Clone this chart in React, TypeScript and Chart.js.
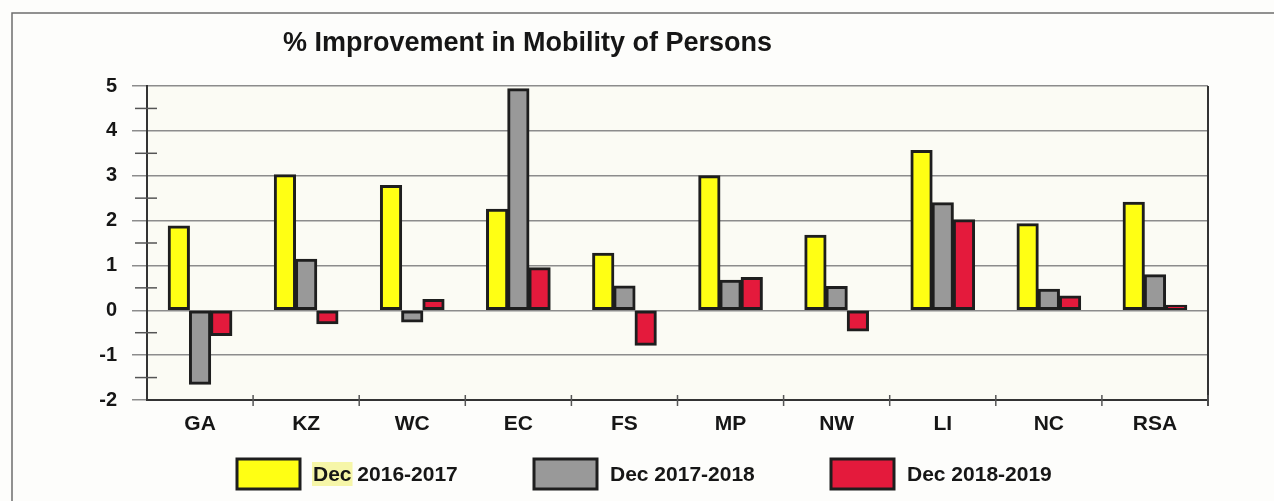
import React, { useEffect, useRef } from "react";
import { Chart, registerables } from "chart.js";

Chart.register(...registerables);

const categories = ["GA", "KZ", "WC", "EC", "FS", "MP", "NW", "LI", "NC", "RSA"];
const series2016_2017 = [1.88, 3.02, 2.78, 2.25, 1.27, 3.0, 1.67, 3.56, 1.93, 2.41];
const series2017_2018 = [-1.65, 1.14, -0.26, 4.94, 0.54, 0.67, 0.53, 2.4, 0.47, 0.79];
const series2018_2019 = [-0.56, -0.3, 0.24, 0.95, -0.78, 0.73, -0.46, 2.02, 0.32, 0.11];
const seriesLabels = ["Dec 2016-2017", "Dec 2017-2018", "Dec 2018-2019"];
const yMin = -2;
const yMax = 5;
const minorTicks = [-1.5, -0.5, 0.5, 1.5, 2.5, 3.5, 4.5];
const chartTitle = "% Improvement in Mobility of Persons";

const FONT = '"Liberation Sans", Arial, sans-serif';
const COLORS = ["#ffff14", "#999999", "#e41a3c"];
const LEGEND_X = [237, 534, 831];

const decorPlugin = {
  id: "decor",
  beforeDraw(chart: any) {
    const { ctx, chartArea, width, height } = chart;
    ctx.save();
    ctx.fillStyle = "#fdfdfb";
    ctx.fillRect(0, 0, width, height);
    ctx.fillStyle = "#fbfbf4";
    ctx.fillRect(chartArea.left, chartArea.top, chartArea.right - chartArea.left, chartArea.bottom - chartArea.top);
    // outer frame
    ctx.strokeStyle = "#6e6e6e";
    ctx.lineWidth = 1.5;
    ctx.beginPath();
    ctx.moveTo(12, height);
    ctx.lineTo(12, 13);
    ctx.lineTo(width, 13);
    ctx.stroke();
    ctx.restore();
  },
  afterDraw(chart: any) {
    const { ctx, chartArea } = chart;
    const y = chart.scales.y;
    const x = chart.scales.x;
    ctx.save();
    // right border
    ctx.strokeStyle = "#333";
    ctx.lineWidth = 2;
    ctx.beginPath();
    ctx.moveTo(chartArea.right, chartArea.top);
    ctx.lineTo(chartArea.right, chartArea.bottom + 6);
    ctx.stroke();
    // minor ticks on y axis
    ctx.strokeStyle = "#555";
    ctx.lineWidth = 1.5;
    minorTicks.forEach((v) => {
      const py = y.getPixelForValue(v);
      ctx.beginPath();
      ctx.moveTo(chartArea.left - 12, py);
      ctx.lineTo(chartArea.left + 10, py);
      ctx.stroke();
    });
    // category boundary marks on x axis
    const n = categories.length;
    const step = x.getPixelForValue(1) - x.getPixelForValue(0);
    for (let i = 1; i <= n; i++) {
      const px = x.getPixelForValue(i - 1) + step / 2;
      ctx.beginPath();
      ctx.moveTo(px, chartArea.bottom - 5);
      ctx.lineTo(px, chartArea.bottom + 6);
      ctx.stroke();
    }
    // title
    ctx.fillStyle = "#161616";
    ctx.font = `bold 27px ${FONT}`;
    ctx.textAlign = "left";
    ctx.textBaseline = "alphabetic";
    ctx.fillText(chartTitle, 283, 51);
    // legend
    chart.data.datasets.forEach((ds: any, i: number) => {
      const bx = LEGEND_X[i];
      const by = 459;
      if (i === 0) {
        ctx.font = `bold 21px ${FONT}`;
        const w = ctx.measureText("Dec").width;
        ctx.fillStyle = "#f6f6a8";
        ctx.fillRect(bx + 75, 462, w + 2, 24);
      }
      ctx.fillStyle = ds.backgroundColor;
      ctx.fillRect(bx, by, 63, 30);
      ctx.strokeStyle = "#1e1e1e";
      ctx.lineWidth = 3;
      ctx.strokeRect(bx, by, 63, 30);
      ctx.fillStyle = "#161616";
      ctx.font = `bold 21px ${FONT}`;
      ctx.fillText(ds.label, bx + 76, 481);
    });
    ctx.restore();
  },
};

export default function App() {
  const ref = useRef<HTMLCanvasElement | null>(null);
  useEffect(() => {
    document.body.style.margin = "0";
    const canvas = ref.current;
    if (!canvas) return;
    const seriesData = [series2016_2017, series2017_2018, series2018_2019];
    const chart = new Chart(canvas, {
      type: "bar",
      data: {
        labels: categories,
        datasets: seriesData.map((d, i) => ({
          label: seriesLabels[i],
          data: d,
          backgroundColor: COLORS[i],
          borderColor: "#1e1e1e",
          borderWidth: 3,
          borderSkipped: false,
          inflateAmount: 0.5,
          categoryPercentage: 0.6,
          barPercentage: 1.0,
        })),
      },
      options: {
        responsive: false,
        animation: false,
        layout: { padding: { left: 0, right: 66, top: 86, bottom: 61 } },
        plugins: {
          legend: { display: false },
          title: { display: false },
          tooltip: { enabled: false },
        },
        scales: {
          x: {
            grid: { display: true, drawOnChartArea: false, drawTicks: false, color: "transparent" },
            border: { display: true, color: "#333", width: 2 },
            ticks: {
              color: "#161616",
              font: { family: FONT, size: 21, weight: "bold" },
              padding: 12,
            },
            afterFit(scale: any) {
              scale.height = 40;
            },
          },
          y: {
            min: yMin,
            max: yMax,
            grid: { color: "#8c8c8c", lineWidth: 1.5, tickLength: 15, tickColor: "#8c8c8c" },
            border: { display: true, color: "#333", width: 2 },
            ticks: {
              stepSize: 1,
              color: "#161616",
              font: { family: FONT, size: 20, weight: "bold" },
              padding: 15,
            },
            afterFit(scale: any) {
              scale.width = 147;
            },
          },
        },
      },
      plugins: [decorPlugin],
    });
    return () => chart.destroy();
  }, []);
  return (
    <div style={{ position: "absolute", left: 0, top: 0, width: 1274, height: 501 }}>
      <canvas ref={ref} width={1274} height={501} />
    </div>
  );
}
